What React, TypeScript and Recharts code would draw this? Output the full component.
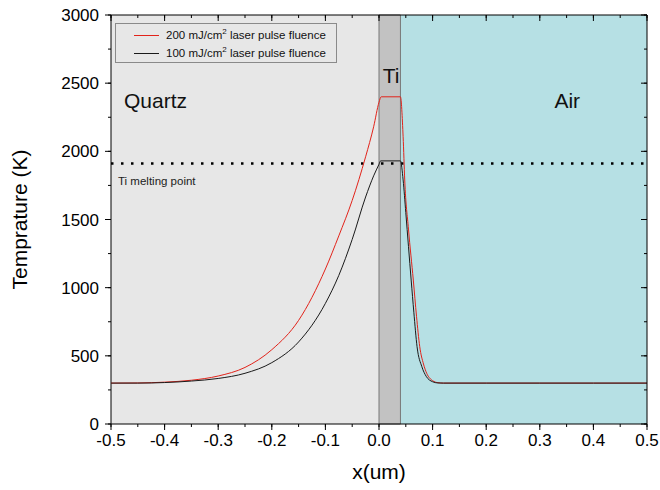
import { LineChart, Line, XAxis, YAxis, ReferenceArea, ReferenceLine } from 'recharts';

const xTicks = [-0.5, -0.4, -0.3, -0.2, -0.1, 0, 0.1, 0.2, 0.3, 0.4, 0.5];
const xMinor = [-0.45, -0.35, -0.25, -0.15, -0.05, 0.05, 0.15, 0.25, 0.35, 0.45];
const yTicks = [0, 500, 1000, 1500, 2000, 2500, 3000];
const yMinor = [250, 750, 1250, 1750, 2250, 2750];

// x in um, temperature in K
const redX = [-0.5, -0.45, -0.4, -0.35, -0.3, -0.25, -0.2, -0.15, -0.1, -0.075, -0.05, -0.025, -0.01, 0, 0.004, 0.04, 0.045, 0.048, 0.055, 0.064, 0.07, 0.076, 0.083, 0.089, 0.1, 0.11, 0.12, 0.2, 0.3, 0.4, 0.5];
const redT = [300, 301, 307, 321, 352, 415, 545, 760, 1137, 1380, 1640, 1960, 2180, 2360, 2400, 2400, 2107, 1790, 1430, 1056, 790, 567, 440, 372, 318, 303, 300, 300, 300, 300, 300];

const blackX = [-0.5, -0.45, -0.4, -0.35, -0.3, -0.25, -0.2, -0.15, -0.1, -0.075, -0.05, -0.025, -0.01, 0, 0.003, 0.04, 0.045, 0.05, 0.06, 0.065, 0.071, 0.08, 0.088, 0.1, 0.11, 0.12, 0.2, 0.3, 0.4, 0.5];
const blackT = [300, 300, 304, 315, 334, 372, 450, 602, 885, 1090, 1354, 1665, 1820, 1905, 1930, 1930, 1790, 1550, 1056, 820, 567, 420, 350, 310, 301, 300, 300, 300, 300, 300];

const meltingPoint = 1910;
const tiStart = 0;
const tiEnd = 0.04;

const redData = redX.map((x, i) => ({ x, t: redT[i] }));
const blackData = blackX.map((x, i) => ({ x, t: blackT[i] }));
const allX = [...xTicks, ...xMinor].sort((a, b) => a - b);
const allY = [...yTicks, ...yMinor].sort((a, b) => a - b);

const font = '"Liberation Sans", Arial, sans-serif';
const isMajor = (majors: number[], v: number) => majors.some((m) => Math.abs(m - v) < 1e-9);

// built-in tick lines give the short (minor) marks; majors get a longer mark and, on bottom/left, a label
function makeTick(side: 'bottom' | 'top' | 'left' | 'right', majors: number[], fmt?: (v: number) => string) {
	return (props: any) => {
		const { x, y, payload } = props;
		const v = payload.value;
		const major = isMajor(majors, v);
		if (side === 'bottom') {
			return (
				<g>
					{major && <line x1={x} x2={x} y1={y - 3} y2={y + 3} stroke="#000" />}
					<text x={x} y={y + 7} dy="0.71em" textAnchor="middle" fontSize={17} fill="#000" fontFamily={font}>{major && fmt ? fmt(v) : ''}</text>
				</g>
			);
		}
		if (side === 'left') {
			return (
				<g>
					{major && <line x1={x + 3} x2={x - 3} y1={y} y2={y} stroke="#000" />}
					<text x={x - 9} y={y} dy="0.355em" textAnchor="end" fontSize={17} fill="#000" fontFamily={font}>{major && fmt ? fmt(v) : ''}</text>
				</g>
			);
		}
		if (side === 'top') {
			return (
				<g>
					{major && <line x1={x} x2={x} y1={y - 3} y2={y + 3} stroke="#000" />}
					<text x={x} y={y} fontSize={1} fill="none">{''}</text>
				</g>
			);
		}
		return (
			<g>
				{major && <line x1={x + 3} x2={x - 3} y1={y} y2={y} stroke="#000" />}
				<text x={x} y={y} fontSize={1} fill="none">{''}</text>
			</g>
		);
	};
}

function regionLabel(text: string, dx: number, dy: number, anchor: string = 'start') {
	return (props: any) => {
		const vb = props.viewBox;
		return (
			<text x={vb.x + dx} y={vb.y + dy} textAnchor={anchor} fontSize={21} fill="#111" fontFamily={font}>
				{text}
			</text>
		);
	};
}

export default function App() {
	return (
		<div style={{ position: 'absolute', left: 0, top: 0, width: 660, height: 490, background: '#fff', fontFamily: font }}>
			{/* back layer: shaded regions, melting line, bottom/left axes */}
			<LineChart width={660} height={490} margin={{ top: 14, right: 12, bottom: 0, left: 0 }}>
				<ReferenceArea xAxisId="b" yAxisId="l" x1={-0.5} x2={tiStart} fill="#e7e7e7" fillOpacity={1} stroke="none"
					label={{ content: regionLabel('Quartz', 13, 93) }} />
				<ReferenceArea xAxisId="b" yAxisId="l" x1={tiEnd} x2={0.5} fill="#b6e0e4" fillOpacity={1} stroke="none"
					label={{ content: regionLabel('Air', 154, 93) }} />
				<ReferenceArea xAxisId="b" yAxisId="l" x1={tiStart} x2={tiEnd} fill="#c2c2c2" fillOpacity={1} stroke="#777" strokeWidth={1}
					label={{ content: regionLabel('Ti', 12, 68, 'middle') }} />

				<ReferenceLine xAxisId="b" yAxisId="l" y={meltingPoint} stroke="#000" strokeWidth={2.5} strokeDasharray="2.5 7.5"
					label={{ content: (p: any) => (
						<text x={p.viewBox.x + 7} y={p.viewBox.y + 21} fontSize={11.5} fill="#222" fontFamily={font}>Ti melting point</text>
					) }} />

				<XAxis xAxisId="b" type="number" dataKey="x" domain={[-0.5, 0.5]} ticks={allX} interval={0} height={66}
					tickSize={3} tickMargin={0} tickLine={{ stroke: '#000' }} axisLine={{ stroke: '#000' }} allowDataOverflow
					tick={makeTick('bottom', xTicks, (v) => v.toFixed(1))}
					label={{ content: (p: any) => (
						<text x={p.viewBox.x + p.viewBox.width / 2} y={479} textAnchor="middle" fontSize={21} fill="#000" fontFamily={font}>x(um)</text>
					) }} />
				<XAxis xAxisId="t" orientation="top" type="number" dataKey="x" domain={[-0.5, 0.5]} height={1}
					tick={false} tickLine={false} axisLine={false} allowDataOverflow />

				<YAxis yAxisId="l" type="number" domain={[0, 3000]} ticks={allY} interval={0} width={111}
					tickSize={3} tickMargin={0} tickLine={{ stroke: '#000' }} axisLine={{ stroke: '#000' }} allowDataOverflow
					tick={makeTick('left', yTicks, (v) => String(v))}
					label={{ content: (p: any) => {
						const cy = p.viewBox.y + p.viewBox.height / 2;
						return (
							<text x={27} y={cy} transform={`rotate(-90, 27, ${cy})`} textAnchor="middle" fontSize={21} fill="#000" fontFamily={font}>Temprature (K)</text>
						);
					} }} />
				<YAxis yAxisId="r" orientation="right" type="number" domain={[0, 3000]} width={1}
					tick={false} tickLine={false} axisLine={false} allowDataOverflow />

				{/* invisible copies give the bottom/left axes their domain; the visible series are in the front layer */}
				<Line xAxisId="b" yAxisId="l" data={redData} dataKey="t" stroke="none" dot={false} isAnimationActive={false} />
				<Line xAxisId="b" yAxisId="l" data={blackData} dataKey="t" stroke="none" dot={false} isAnimationActive={false} />
			</LineChart>

			{/* front layer: same plot box, inward ticks on top/right and the two series */}
			<div style={{ position: 'absolute', left: 0, top: 0, pointerEvents: 'none' }}>
				<LineChart width={660} height={490} margin={{ top: 14, right: 12, bottom: 66, left: 111 }}>
					<XAxis xAxisId="t" orientation="top" type="number" dataKey="x" domain={[-0.5, 0.5]} ticks={allX} interval={0} height={1}
						tickSize={-3} tickMargin={0} tickLine={{ stroke: '#000' }} axisLine={{ stroke: '#000' }} allowDataOverflow
						tick={makeTick('top', xTicks)} />
					<YAxis yAxisId="r" orientation="right" type="number" domain={[0, 3000]} ticks={allY} interval={0} width={1}
						tickSize={-3} tickMargin={0} tickLine={{ stroke: '#000' }} axisLine={{ stroke: '#000' }} allowDataOverflow
						tick={makeTick('right', yTicks)} />
					<Line xAxisId="t" yAxisId="r" data={redData} dataKey="t" type="monotone" stroke="#e2231a" strokeWidth={1}
						dot={false} isAnimationActive={false} />
					<Line xAxisId="t" yAxisId="r" data={blackData} dataKey="t" type="monotone" stroke="#1a1a1a" strokeWidth={1}
						dot={false} isAnimationActive={false} />
				</LineChart>
			</div>

			<div style={{ position: 'absolute', left: 115, top: 23, width: 220, height: 38, border: '1px solid #8a8a8a', fontSize: 11.5, color: '#111', lineHeight: '18px' }}>
				<div style={{ position: 'absolute', left: 0, top: 2, display: 'flex', alignItems: 'center' }}>
					<span style={{ display: 'inline-block', marginLeft: 18, width: 25, height: 0, borderTop: '1px solid #e2231a' }} />
					<span style={{ marginLeft: 7 }}>200 mJ/cm<sup style={{ fontSize: 8, lineHeight: 0 }}>2</sup> laser pulse fluence</span>
				</div>
				<div style={{ position: 'absolute', left: 0, top: 20, display: 'flex', alignItems: 'center' }}>
					<span style={{ display: 'inline-block', marginLeft: 18, width: 25, height: 0, borderTop: '1px solid #1a1a1a' }} />
					<span style={{ marginLeft: 7 }}>100 mJ/cm<sup style={{ fontSize: 8, lineHeight: 0 }}>2</sup> laser pulse fluence</span>
				</div>
			</div>
		</div>
	);
}
